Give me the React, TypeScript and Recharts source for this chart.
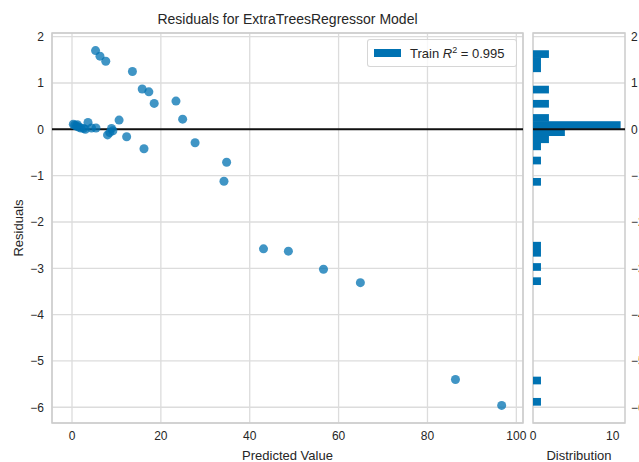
import React from 'react';
import {
  ScatterChart,
  Scatter,
  XAxis,
  YAxis,
  ZAxis,
  CartesianGrid,
  ReferenceLine,
  ReferenceArea,
  Legend,
  Label,
  BarChart,
  Bar,
} from 'recharts';

const FONT = '"Liberation Sans", Arial, Helvetica, sans-serif';
const TEXT = '#262626';
const GRID = '#dcdcdc';
const FRAME = '#cccccc';
const BLUE = '#0072B2';

// Training-set predictions and their residuals
const predicted = [
  5.3, 6.3, 7.6, 13.6, 15.8, 17.3, 18.5, 23.4, 24.9, 10.6,
  0.3, 0.6, 1.0, 1.5, 2.0, 2.6, 3.6, 4.4, 5.4, 8.9, 1.2,
  8.0, 8.5, 9.2, 3.0,
  12.3, 27.7, 16.2, 34.8, 34.2, 43.1, 48.7, 56.6, 64.9, 86.3, 96.7,
];
const residuals = [
  1.70, 1.58, 1.47, 1.25, 0.87, 0.81, 0.56, 0.61, 0.22, 0.20,
  0.11, 0.09, 0.07, 0.05, 0.03, 0.02, 0.15, 0.03, 0.03, 0.02, 0.10,
  -0.12, -0.07, -0.03, 0.0,
  -0.16, -0.29, -0.42, -0.71, -1.12, -2.58, -2.63, -3.02, -3.31, -5.40, -5.96,
];

// Residual distribution: 50 bins, lowest residual first
const binRange = [-5.96, 1.70];
const binCounts = [
  1, 0, 0, 1,
  0, 0, 0, 0, 0, 0, 0, 0, 0, 0, 0, 0, 0,
  1, 0, 1, 0, 1, 1,
  0, 0, 0, 0, 0, 0, 0, 0,
  1, 0, 0, 1, 0, 1, 2, 4, 11, 2, 0, 2, 0, 2, 0, 0, 1, 1, 2,
];

const xTicks = [0, 20, 40, 60, 80, 100];
const yTicks = [-6, -5, -4, -3, -2, -1, 0, 1, 2];
const distTicks = [0, 10];
const trainR2 = 0.995;

const xDomain: [number, number] = [-4.5, 101.5];
const yDomain: [number, number] = [-6.34, 2.08];
const distDomain: [number, number] = [0, 11.55];

const PLOT_HEIGHT = 390;

const points = predicted.map((x, i) => ({ x, y: residuals[i] }));
const binWidth = (binRange[1] - binRange[0]) / binCounts.length;
const bins = binCounts.map((count, i) => ({
  mid: binRange[0] + (i + 0.5) * binWidth,
  count,
}));
// pixel thickness of one bin on the residual axis
const binPixels = (PLOT_HEIGHT / (yDomain[1] - yDomain[0])) * binWidth;

// histogram bar: keeps the position Recharts gives, but spans the full bin
const BinBar = (props: any) => {
  const { x, y, width, height, fill } = props;
  if (!width || width <= 0) return null;
  const cy = y + height / 2;
  return (
    <rect
      x={x}
      y={cy - binPixels / 2 - 0.3}
      width={width}
      height={binPixels + 0.6}
      fill={fill}
    />
  );
};

const fmt = (v: number) => String(v).replace('-', '\u2212');
const tickStyle = { fill: TEXT, fontSize: 12, fontFamily: FONT };

const LegendBox = () => (
  <div
    style={{
      width: 150,
      height: 28,
      boxSizing: 'border-box',
      border: '1px solid rgba(204,204,204,0.8)',
      borderRadius: 3,
      background: 'rgba(255,255,255,0.8)',
      display: 'flex',
      alignItems: 'center',
      fontFamily: FONT,
      fontSize: 13,
      color: TEXT,
      whiteSpace: 'nowrap',
    }}
  >
    <span
      style={{
        display: 'inline-block',
        width: 27,
        height: 8,
        background: BLUE,
        marginLeft: 6,
        marginRight: 9,
      }}
    />
    <span>
      Train <i>R</i>
      <span style={{ fontSize: 9, verticalAlign: 5, lineHeight: 0 }}>2</span>
      {' = '}
      {trainR2.toFixed(3)}
    </span>
  </div>
);

export default function App() {
  return (
    <div
      style={{
        position: 'absolute',
        left: 0,
        top: 0,
        width: 639,
        height: 462,
        background: '#fff',
        overflow: 'hidden',
      }}
    >
      <div
        style={{
          position: 'absolute',
          left: 52,
          top: 10,
          width: 471,
          textAlign: 'center',
          fontFamily: FONT,
          fontSize: 14,
          lineHeight: '18px',
          color: TEXT,
        }}
      >
        Residuals for ExtraTreesRegressor Model
      </div>

      <div style={{ position: 'absolute', left: 0, top: 0 }}>
        <ScatterChart
          width={533}
          height={462}
          margin={{ top: 33, right: 10, bottom: 0, left: 0 }}
        >
          <CartesianGrid stroke={GRID} strokeWidth={1.3} />
          <XAxis
            type="number"
            dataKey="x"
            domain={xDomain}
            ticks={xTicks}
            allowDataOverflow
            tickLine={false}
            axisLine={false}
            tickSize={0}
            tickMargin={8}
            height={39}
            tick={tickStyle}
            tickFormatter={fmt}
          >
            <Label
              value="Predicted Value"
              position="insideBottom"
              offset={2}
              style={{ fill: TEXT, fontSize: 13, fontFamily: FONT }}
            />
          </XAxis>
          <YAxis
            type="number"
            dataKey="y"
            domain={yDomain}
            ticks={yTicks}
            allowDataOverflow
            tickLine={false}
            axisLine={false}
            tickSize={0}
            tickMargin={8}
            width={52}
            tick={tickStyle}
            tickFormatter={fmt}
          >
            <Label
              value="Residuals"
              angle={-90}
              position="insideLeft"
              offset={18}
              style={{ fill: TEXT, fontSize: 13, fontFamily: FONT, textAnchor: 'middle' }}
            />
          </YAxis>
          <ZAxis range={[70, 70]} />
          <ReferenceArea
            x1={xDomain[0]}
            x2={xDomain[1]}
            y1={yDomain[0]}
            y2={yDomain[1]}
            fill="none"
            stroke={FRAME}
            strokeWidth={1.5}
            ifOverflow="visible"
          />
          <Scatter
            data={points}
            fill={BLUE}
            fillOpacity={0.75}
            isAnimationActive={false}
          />
          <ReferenceLine y={0} stroke="#111111" strokeWidth={2} ifOverflow="visible" />
          <Legend
            layout="horizontal"
            verticalAlign="middle"
            align="center"
            content={() => <LegendBox />}
            wrapperStyle={{ left: 367, top: 39, width: 'auto', height: 'auto' }}
          />
        </ScatterChart>
      </div>

      <div style={{ position: 'absolute', left: 523, top: 0 }}>
        <BarChart
          width={116}
          height={462}
          layout="vertical"
          data={bins}
          margin={{ top: 33, right: 0, bottom: 0, left: 10 }}
          barCategoryGap={0}
          barGap={0}
        >
          <CartesianGrid stroke={GRID} strokeWidth={1.3} vertical={false} />
          <XAxis
            type="number"
            domain={distDomain}
            ticks={distTicks}
            allowDataOverflow
            tickLine={false}
            axisLine={false}
            tickSize={0}
            tickMargin={8}
            height={39}
            tick={tickStyle}
          >
            <Label
              value="Distribution"
              position="insideBottom"
              offset={2}
              style={{ fill: TEXT, fontSize: 13, fontFamily: FONT }}
            />
          </XAxis>
          <YAxis
            type="number"
            dataKey="mid"
            orientation="right"
            reversed
            domain={yDomain}
            ticks={yTicks}
            allowDataOverflow
            tickLine={false}
            axisLine={false}
            tickSize={0}
            tickMargin={6}
            width={14}
            tick={tickStyle}
            tickFormatter={fmt}
          />
          <ReferenceArea
            x1={distDomain[0]}
            x2={distDomain[1]}
            y1={yDomain[0]}
            y2={yDomain[1]}
            fill="none"
            stroke={FRAME}
            strokeWidth={1.5}
            ifOverflow="visible"
          />
          <Bar dataKey="count" fill={BLUE} shape={BinBar} isAnimationActive={false} />
          <ReferenceLine y={0} stroke="#111111" strokeWidth={2} ifOverflow="visible" />
        </BarChart>
      </div>
    </div>
  );
}
